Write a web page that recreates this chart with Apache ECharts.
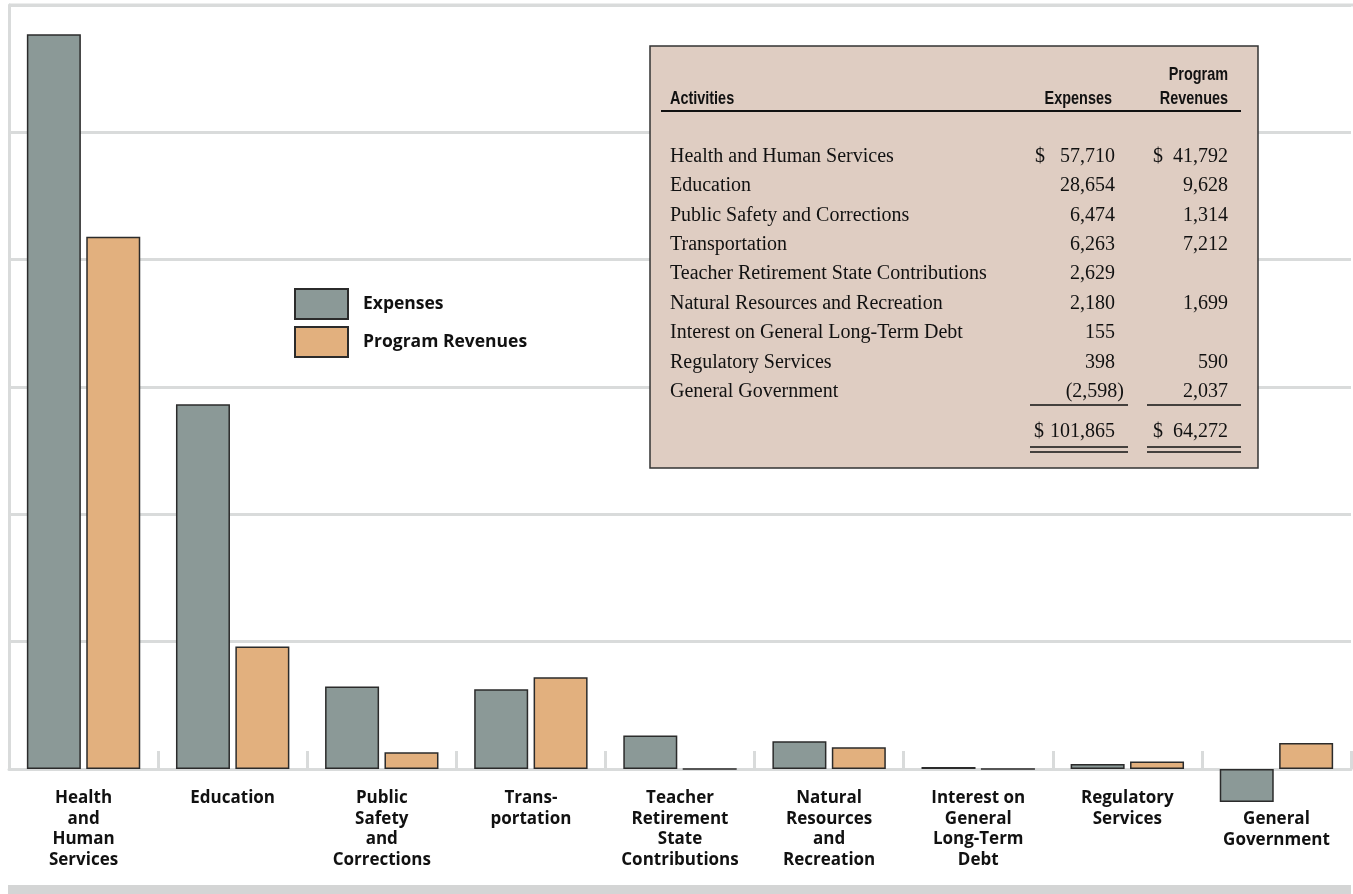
<!DOCTYPE html>
<html>
<head>
<meta charset="utf-8">
<script src="https://cdn.jsdelivr.net/npm/echarts@6/dist/echarts.min.js"></script>
<style>
html,body{margin:0;padding:0;background:#fff;}
#chart{width:1353px;height:894px;}
</style>
</head>
<body>
<div id="chart"></div>
<script>
// ---- data ----
const categories = [
  'Health\nand\nHuman\nServices',
  'Education',
  'Public\nSafety\nand\nCorrections',
  'Trans-\nportation',
  'Teacher\nRetirement\nState\nContributions',
  'Natural\nResources\nand\nRecreation',
  'Interest on\nGeneral\nLong-Term\nDebt',
  'Regulatory\nServices',
  'General\nGovernment'
];
const tableLabels = [
  'Health and Human Services',
  'Education',
  'Public Safety and Corrections',
  'Transportation',
  'Teacher Retirement State Contributions',
  'Natural Resources and Recreation',
  'Interest on General Long-Term Debt',
  'Regulatory Services',
  'General Government'
];
const expenses = [57710, 28654, 6474, 6263, 2629, 2180, 155, 398, -2598];
const programRevenues = [41792, 9628, 1314, 7212, null, 1699, null, 590, 2037];
const yTicks = [0, 10000, 20000, 30000, 40000, 50000, 60000];

// ---- helpers ----
function fmt(v) {
  const s = Math.abs(v).toLocaleString('en-US');
  return v < 0 ? '(' + s + ')' : s;
}
const serif = '"Liberation Serif", "Times New Roman", serif';
const hdrFont = '"Liberation Sans", Arial, sans-serif';
const sans = '"Open Sans", "Noto Sans", sans-serif';

const GRID = '#d9dbdb';
const EXP_COLOR = '#8b9997';
const REV_COLOR = '#e2b07e';
const BORDER = '#2b2b2b';

// ---- table graphic ----
const tbl = [];
const T = { x: 650, y: 46, w: 608, h: 422 };
tbl.push({ type: 'rect', shape: { x: T.x, y: T.y, width: T.w, height: T.h },
  style: { fill: '#dfcdc2', stroke: '#333', lineWidth: 1.5 }, z: 10 });
function txt(x, y, s, align, font, size, weight, sx) {
  tbl.push({ type: 'text', x: x, y: y, z: 11, scaleX: sx || 1,
    style: { text: s, textAlign: align, textVerticalAlign: 'middle',
      font: (weight || 'normal') + ' ' + size + 'px ' + font, fill: '#111' } });
}
function line(x1, x2, y, w) {
  tbl.push({ type: 'line', z: 11, shape: { x1: x1, y1: y, x2: x2, y2: y },
    style: { stroke: '#111', lineWidth: w } });
}
const HS = 0.78, HF = 18.5;
txt(670, 99, 'Activities', 'left', hdrFont, HF, 'bold', HS);
txt(1112, 99, 'Expenses', 'right', hdrFont, HF, 'bold', HS);
txt(1228, 75, 'Program', 'right', hdrFont, HF, 'bold', HS);
txt(1228, 99, 'Revenues', 'right', hdrFont, HF, 'bold', HS);
line(661, 1241, 111, 2);

const rowY0 = 156.5, rowStep = 29.4, FS = 20;
tableLabels.forEach(function (lab, i) {
  const y = rowY0 + i * rowStep;
  txt(670, y, lab, 'left', serif, FS);
  const e = expenses[i];
  if (e != null) {
    if (e < 0) txt(1124, y, fmt(e), 'right', serif, FS);
    else txt(1115, y, fmt(e), 'right', serif, FS);
    if (i === 0) txt(1035, y, '$', 'left', serif, FS);
  }
  const r = programRevenues[i];
  if (r != null) {
    txt(1228, y, fmt(r), 'right', serif, FS);
    if (i === 0) txt(1153, y, '$', 'left', serif, FS);
  }
});
line(1030, 1128, 405, 1.5);
line(1147, 1241, 405, 1.5);
const totalExp = expenses.reduce(function (a, b) { return a + (b || 0); }, 0);
const totalRev = programRevenues.reduce(function (a, b) { return a + (b || 0); }, 0);
txt(1115, 432, fmt(totalExp), 'right', serif, FS);
txt(1034, 432, '$', 'left', serif, FS);
txt(1228, 432, fmt(totalRev), 'right', serif, FS);
txt(1153, 432, '$', 'left', serif, FS);
line(1030, 1128, 447, 1.5);
line(1147, 1241, 447, 1.5);
line(1030, 1128, 452, 1.5);
line(1147, 1241, 452, 1.5);

// bottom band and top rule
const decor = [
  { type: 'rect', shape: { x: 8, y: 885, width: 1343, height: 9 }, style: { fill: '#d4d5d5' }, z: 1 },
  { type: 'line', shape: { x1: 9, y1: 5, x2: 1353, y2: 5 }, style: { stroke: GRID, lineWidth: 3 }, z: 0 }
];

const axisData = categories.map(function (c, i) {
  // the last category's label sits lower, below the negative bar
  return i === categories.length - 1 ? { value: c, textStyle: { padding: [21, 0, 0, 0] } } : c;
});

const chart = echarts.init(document.getElementById('chart'), null, { renderer: 'canvas' });
chart.setOption({
  animation: false,
  backgroundColor: '#fff',
  grid: { left: 9, right: 2, top: 5, bottom: 125, containLabel: false },
  legend: {
    orient: 'vertical', left: 294, top: 288, padding: 0, itemWidth: 53, itemHeight: 30, itemGap: 6,
    icon: 'rect',
    textStyle: { fontFamily: sans, fontWeight: 'bold', fontSize: 17.5, color: '#111', padding: [0, 0, 0, 10] },
    data: ['Expenses', 'Program Revenues']
  },
  xAxis: {
    type: 'category', data: axisData,
    axisLine: { onZero: true, lineStyle: { color: GRID, width: 3 } },
    axisTick: { show: true, inside: true, length: 18, lineStyle: { color: GRID, width: 3 } },
    axisLabel: { interval: 0, margin: 19, fontFamily: sans, fontWeight: 'bold', fontSize: 17,
      lineHeight: 20.5, color: '#111', verticalAlign: 'top' },
    z: 3
  },
  yAxis: {
    type: 'value', min: yTicks[0], max: yTicks[yTicks.length - 1], interval: yTicks[1] - yTicks[0],
    axisLine: { show: true, lineStyle: { color: GRID, width: 3 } },
    axisTick: { show: false },
    axisLabel: { show: false },
    splitLine: { show: true, lineStyle: { color: GRID, width: 3 } }
  },
  series: [
    { name: 'Expenses', type: 'bar', data: expenses, barWidth: 54, barGap: '10%', clip: false,
      itemStyle: { color: EXP_COLOR, borderColor: BORDER, borderWidth: 1.5 }, z: 5 },
    { name: 'Program Revenues', type: 'bar', data: programRevenues.map(function (v) { return v == null ? 0 : v; }),
      barWidth: 54, barGap: '10%', clip: false,
      itemStyle: { color: REV_COLOR, borderColor: BORDER, borderWidth: 1.5 }, z: 5 }
  ],
  graphic: decor.concat(tbl)
});
</script>
</body>
</html>
